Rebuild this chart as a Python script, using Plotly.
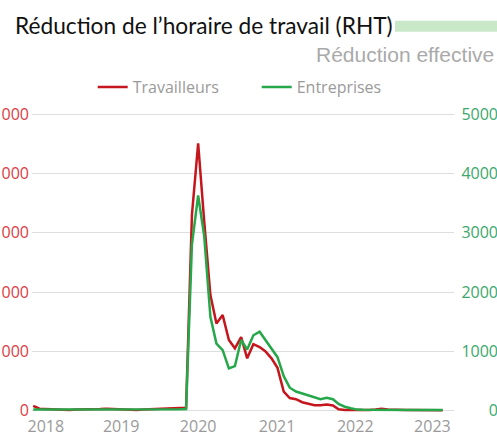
import plotly.graph_objects as go
import pandas as pd

# ---- data ----
months = pd.date_range("2018-01-01", "2023-08-01", freq="MS")

travailleurs = [
    800, 300, 250, 200, 150, 150, 100, 150, 150, 200, 200, 250,
    300, 250, 200, 150, 150, 100, 150, 200, 250, 300, 300, 350,
    400, 450,
    33000, 45100, 32000, 19500, 14700, 16100, 11900, 10500, 12400, 8800,
    11200, 10700, 10000, 8800, 7200, 3200, 2100, 1900, 1400, 1200, 900, 900,
    1000, 850, 200, 100, 80, 50,
    100, 100, 150, 300, 150, 100, 100, 100, 100, 80, 60, 50, 50, 50,
]
entreprises = [
    15, 15, 12, 12, 10, 10, 10, 12, 12, 15, 15, 15,
    18, 15, 12, 10, 10, 10, 12, 15, 15, 18, 18, 20,
    20, 25,
    2800, 3630, 2950, 1580, 1130, 1020, 710, 750, 1190, 1030,
    1270, 1330, 1190, 1030, 900, 580, 385, 320, 290, 260, 230, 190,
    215, 190, 110, 64, 37, 15,
    12, 10, 10, 10, 10, 10, 10, 10, 8, 8, 8, 8, 8, 8,
]

year_ticks = ["2018-03-05", "2019-03-15", "2020-04-01", "2021-04-29", "2022-05-23", "2023-06-11"]
year_labels = ["2018", "2019", "2020", "2021", "2022", "2023"]

left_ticks = [0, 10000, 20000, 30000, 40000, 50000]
right_ticks = [0, 1000, 2000, 3000, 4000, 5000]

RED = "#c4161c"
GREEN = "#26a84a"
RED_TXT = "#dc3c44"
GREEN_TXT = "#3aa86c"
GRAY = "#9a9a9a"

fig = go.Figure()
fig.add_trace(go.Scatter(x=months, y=travailleurs, name="Travailleurs", mode="lines",
                         line=dict(color=RED, width=2.5), yaxis="y"))
fig.add_trace(go.Scatter(x=months, y=entreprises, name="Entreprises", mode="lines",
                         line=dict(color=GREEN, width=2.5), yaxis="y2"))

W, H = 497, 436
ml, mr, mt, mb = 32, 0, 95, 5
pw = W - ml - mr
ph = H - mt - mb

ZERO_PX = 410.5
TOP_PX = 114.3
k = (ZERO_PX - TOP_PX) / 50000.0  # px per unit (left axis)
y_top = 50000 + (TOP_PX - mt) / k
y_bot = -((H - mb) - ZERO_PX) / k


def py(ypix):
    return (H - mb - ypix) / ph


def px(xpix):
    return (xpix - ml) / pw


fig.update_layout(
    template="none",
    width=W, height=H,
    separators=", ",
    margin=dict(l=ml, r=mr, t=mt, b=mb, pad=0),
    paper_bgcolor="white", plot_bgcolor="white",
    font=dict(family="Open Sans", size=16, color=GRAY),
    title=dict(text="Réduction de l’horaire de travail (RHT)",
               font=dict(family="Lato", size=22.7, color="#111111"),
               xref="container", x=15 / W, xanchor="left",
               yref="container", y=1 - 26.5 / H, yanchor="middle"),
    showlegend=True,
    legend=dict(orientation="h", x=px(92.7), xanchor="left", y=py(87), yanchor="middle",
                font=dict(family="Open Sans", size=16, color=GRAY),
                entrywidth=119, entrywidthmode="pixels",
                bgcolor="rgba(0,0,0,0)", borderwidth=0),
    xaxis=dict(type="date", domain=[0, px(454.3)],
               range=["2017-12-26", "2023-09-28"],
               anchor="free", position=py(414),
               tickvals=year_ticks, ticktext=year_labels,
               showgrid=False, zeroline=False, showline=False, ticks="",
               tickfont=dict(family="Open Sans", size=16, color=GRAY),
               ticklabelstandoff=1, automargin=False),
    yaxis=dict(range=[y_bot, y_top], tickvals=left_ticks, tickformat=",d",
               showgrid=True, gridcolor="#dedede", gridwidth=1,
               zeroline=False, showline=False, ticks="",
               tickfont=dict(family="Open Sans", size=16, color=RED_TXT),
               ticklabelstandoff=2, automargin=False),
    yaxis2=dict(range=[y_bot / 10, y_top / 10], tickvals=right_ticks, tickformat="d",
                overlaying="y", side="right", anchor="free", position=1,
                ticklabelposition="inside", ticklabelstandoff=-4,
                showgrid=False, zeroline=False, showline=False, ticks="",
                tickfont=dict(family="Open Sans", size=16, color=GREEN_TXT),
                automargin=False),
    shapes=[dict(type="rect", xref="paper", yref="paper",
                 x0=px(395), x1=px(505), y0=py(31.7), y1=py(20.7),
                 fillcolor="#c8e8c8", line=dict(width=0), layer="above")],
    annotations=[dict(text="Réduction effective", xref="paper", yref="paper",
                      x=px(496), xanchor="right", y=py(55), yanchor="middle",
                      showarrow=False,
                      font=dict(family="Liberation Sans", size=21, color="#aaaaaa"))],
)

fig.write_html("out.html", config={"displayModeBar": False},
               post_script="document.body.style.margin='0';document.body.style.overflow='hidden';")
